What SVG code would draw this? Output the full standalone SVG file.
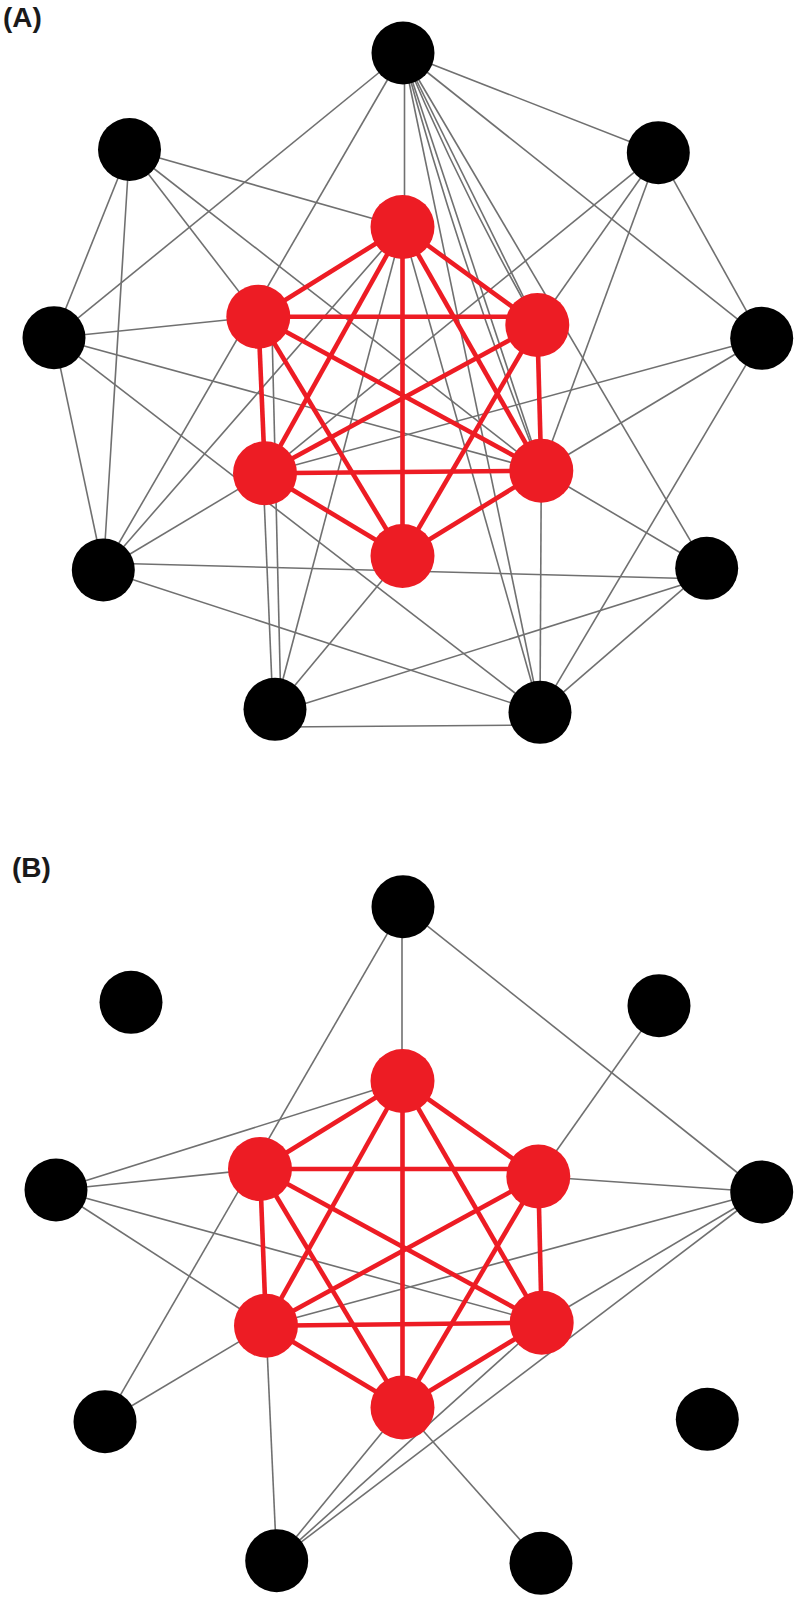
<svg xmlns="http://www.w3.org/2000/svg" width="799" height="1599" viewBox="0 0 799 1599">
<style>
.g{stroke:#707070;stroke-width:1.6;fill:none}
.r{stroke:#ED1C24;stroke-width:4.6;fill:none}
.bn{fill:#000}
.rn{fill:#ED1C24}
.lbl{font-family:"Liberation Sans",Arial,sans-serif;font-weight:bold;font-size:28px;fill:#1a1a1a}
</style>
<rect width="799" height="1599" fill="#fff"/>
<text class="lbl" x="3" y="27">(A)</text>
<text class="lbl" x="12" y="877">(B)</text>
<g id="edges-A-gray">
<line class="g" x1="403" y1="53" x2="658.3" y2="152.7"/>
<line class="g" x1="403" y1="53" x2="761.7" y2="338.3"/>
<line class="g" x1="404.5" y1="53" x2="404.5" y2="227"/>
<line class="g" x1="403" y1="53" x2="54" y2="337.7"/>
<line class="g" x1="403" y1="53" x2="103.3" y2="570"/>
<line class="g" x1="403" y1="53" x2="706.7" y2="568.3"/>
<line class="g" x1="403" y1="53" x2="540" y2="712.3"/>
<line class="g" x1="403" y1="53" x2="541.3" y2="470.7"/>
<line class="g" x1="403" y1="53" x2="537.3" y2="325"/>
<path class="g" d="M403,53 Q461.9,193.1 537.3,325"/>
<path class="g" d="M403,53 Q460.5,265.8 541.3,470.7"/>
<line class="g" x1="129.5" y1="149.5" x2="402.5" y2="227"/>
<line class="g" x1="129.5" y1="149.5" x2="258.3" y2="316.7"/>
<line class="g" x1="129.5" y1="149.5" x2="54" y2="337.7"/>
<line class="g" x1="129.5" y1="149.5" x2="103.3" y2="570"/>
<line class="g" x1="129.5" y1="149.5" x2="541.3" y2="470.7"/>
<line class="g" x1="658.3" y1="152.7" x2="761.7" y2="338.3"/>
<line class="g" x1="658.3" y1="152.7" x2="265" y2="473.3"/>
<line class="g" x1="658.3" y1="152.7" x2="537.3" y2="325"/>
<line class="g" x1="658.3" y1="152.7" x2="541.3" y2="470.7"/>
<line class="g" x1="54" y1="337.7" x2="258.3" y2="316.7"/>
<line class="g" x1="54" y1="337.7" x2="103.3" y2="570"/>
<line class="g" x1="54" y1="337.7" x2="541.3" y2="470.7"/>
<line class="g" x1="54" y1="337.7" x2="540" y2="712.3"/>
<line class="g" x1="761.7" y1="338.3" x2="265" y2="473.3"/>
<line class="g" x1="761.7" y1="338.3" x2="541.3" y2="470.7"/>
<line class="g" x1="761.7" y1="338.3" x2="540" y2="712.3"/>
<line class="g" x1="103.3" y1="570" x2="402.5" y2="227"/>
<line class="g" x1="103.3" y1="570" x2="265" y2="473.3"/>
<line class="g" x1="104" y1="563" x2="706" y2="579"/>
<line class="g" x1="103.3" y1="570" x2="540" y2="712.3"/>
<line class="g" x1="706.7" y1="568.3" x2="541.3" y2="470.7"/>
<line class="g" x1="706.7" y1="577" x2="275" y2="713"/>
<line class="g" x1="706.7" y1="568.3" x2="540" y2="712.3"/>
<line class="g" x1="273" y1="709" x2="263" y2="473"/>
<line class="g" x1="281" y1="709" x2="272" y2="330"/>
<line class="g" x1="275" y1="709.3" x2="402.5" y2="227"/>
<line class="g" x1="275" y1="709.3" x2="402.5" y2="556"/>
<line class="g" x1="280" y1="727" x2="535" y2="725"/>
<line class="g" x1="540" y1="712.3" x2="402.5" y2="227"/>
<line class="g" x1="540" y1="712.3" x2="541.3" y2="470.7"/>
</g>
<g id="edges-A-red">
<line class="r" x1="402.5" y1="227" x2="258.3" y2="316.7"/>
<line class="r" x1="402.5" y1="227" x2="537.3" y2="325"/>
<line class="r" x1="402.5" y1="227" x2="265" y2="473.3"/>
<line class="r" x1="402.5" y1="227" x2="541.3" y2="470.7"/>
<line class="r" x1="402.5" y1="227" x2="402.5" y2="556"/>
<line class="r" x1="258.3" y1="316.7" x2="537.3" y2="316.7"/>
<line class="r" x1="258.3" y1="316.7" x2="265" y2="473.3"/>
<line class="r" x1="258.3" y1="316.7" x2="541.3" y2="470.7"/>
<line class="r" x1="258.3" y1="316.7" x2="402.5" y2="556"/>
<line class="r" x1="537.3" y1="325" x2="265" y2="473.3"/>
<line class="r" x1="537.3" y1="325" x2="541.3" y2="470.7"/>
<line class="r" x1="537.3" y1="325" x2="402.5" y2="556"/>
<line class="r" x1="265" y1="473.3" x2="541.3" y2="470.7"/>
<line class="r" x1="265" y1="473.3" x2="402.5" y2="556"/>
<line class="r" x1="541.3" y1="470.7" x2="402.5" y2="556"/>
</g>
<g id="edges-B-gray">
<line class="g" x1="402" y1="906.7" x2="402" y2="1081"/>
<line class="g" x1="403" y1="906.7" x2="761.7" y2="1192"/>
<line class="g" x1="403" y1="906.7" x2="105" y2="1421.7"/>
<line class="g" x1="659" y1="1005.7" x2="538.3" y2="1176.5"/>
<line class="g" x1="56" y1="1190" x2="402.5" y2="1081"/>
<line class="g" x1="56" y1="1190" x2="260" y2="1169"/>
<line class="g" x1="56" y1="1190" x2="266" y2="1325.7"/>
<line class="g" x1="56" y1="1190" x2="541.7" y2="1322.7"/>
<line class="g" x1="761.7" y1="1192" x2="538.3" y2="1176.5"/>
<line class="g" x1="761.7" y1="1192" x2="266" y2="1325.7"/>
<line class="g" x1="761.7" y1="1192" x2="541.7" y2="1322.7"/>
<line class="g" x1="761.7" y1="1192" x2="276.7" y2="1560.7"/>
<line class="g" x1="105" y1="1421.7" x2="266" y2="1325.7"/>
<line class="g" x1="276.7" y1="1560.7" x2="266" y2="1325.7"/>
<line class="g" x1="276.7" y1="1560.7" x2="402.5" y2="1407.5"/>
<line class="g" x1="276.7" y1="1560.7" x2="541.7" y2="1322.7"/>
<line class="g" x1="541" y1="1563.3" x2="402.5" y2="1407.5"/>
</g>
<g id="edges-B-red">
<line class="r" x1="402.5" y1="1081" x2="260" y2="1169"/>
<line class="r" x1="402.5" y1="1081" x2="538.3" y2="1176.5"/>
<line class="r" x1="402.5" y1="1081" x2="266" y2="1325.7"/>
<line class="r" x1="402.5" y1="1081" x2="541.7" y2="1322.7"/>
<line class="r" x1="402.5" y1="1081" x2="402.5" y2="1407.5"/>
<line class="r" x1="260" y1="1169" x2="538.3" y2="1169"/>
<line class="r" x1="260" y1="1169" x2="266" y2="1325.7"/>
<line class="r" x1="260" y1="1169" x2="541.7" y2="1322.7"/>
<line class="r" x1="260" y1="1169" x2="402.5" y2="1407.5"/>
<line class="r" x1="538.3" y1="1176.5" x2="266" y2="1325.7"/>
<line class="r" x1="538.3" y1="1176.5" x2="541.7" y2="1322.7"/>
<line class="r" x1="538.3" y1="1176.5" x2="402.5" y2="1407.5"/>
<line class="r" x1="266" y1="1325.7" x2="541.7" y2="1322.7"/>
<line class="r" x1="266" y1="1325.7" x2="402.5" y2="1407.5"/>
<line class="r" x1="541.7" y1="1322.7" x2="402.5" y2="1407.5"/>
</g>
<g id="A-T"><circle class="bn" cx="403" cy="53" r="31.5"/></g>
<g id="A-TL"><circle class="bn" cx="129.5" cy="149.5" r="31.5"/></g>
<g id="A-TR"><circle class="bn" cx="658.3" cy="152.7" r="31.5"/></g>
<g id="A-L"><circle class="bn" cx="54" cy="337.7" r="31.5"/></g>
<g id="A-R"><circle class="bn" cx="761.7" cy="338.3" r="31.5"/></g>
<g id="A-LL"><circle class="bn" cx="103.3" cy="570" r="31.5"/></g>
<g id="A-LR"><circle class="bn" cx="706.7" cy="568.3" r="31.5"/></g>
<g id="A-BL"><circle class="bn" cx="275" cy="709.3" r="31.5"/></g>
<g id="A-BR"><circle class="bn" cx="540" cy="712.3" r="31.5"/></g>
<g id="A-r1"><circle class="rn" cx="402.5" cy="227" r="32"/></g>
<g id="A-r2"><circle class="rn" cx="258.3" cy="316.7" r="32"/></g>
<g id="A-r3"><circle class="rn" cx="537.3" cy="325" r="32"/></g>
<g id="A-r4"><circle class="rn" cx="265" cy="473.3" r="32"/></g>
<g id="A-r5"><circle class="rn" cx="541.3" cy="470.7" r="32"/></g>
<g id="A-r6"><circle class="rn" cx="402.5" cy="556" r="32"/></g>
<g id="B-T"><circle class="bn" cx="403" cy="906.7" r="31.5"/></g>
<g id="B-TL"><circle class="bn" cx="131" cy="1002.3" r="31.5"/></g>
<g id="B-TR"><circle class="bn" cx="659" cy="1005.7" r="31.5"/></g>
<g id="B-L"><circle class="bn" cx="56" cy="1190" r="31.5"/></g>
<g id="B-R"><circle class="bn" cx="761.7" cy="1192" r="31.5"/></g>
<g id="B-LL"><circle class="bn" cx="105" cy="1421.7" r="31.5"/></g>
<g id="B-LR"><circle class="bn" cx="707.3" cy="1419.3" r="31.5"/></g>
<g id="B-BL"><circle class="bn" cx="276.7" cy="1560.7" r="31.5"/></g>
<g id="B-BR"><circle class="bn" cx="541" cy="1563.3" r="31.5"/></g>
<g id="B-r1"><circle class="rn" cx="402.5" cy="1081" r="32"/></g>
<g id="B-r2"><circle class="rn" cx="260" cy="1169" r="32"/></g>
<g id="B-r3"><circle class="rn" cx="538.3" cy="1176.5" r="32"/></g>
<g id="B-r4"><circle class="rn" cx="266" cy="1325.7" r="32"/></g>
<g id="B-r5"><circle class="rn" cx="541.7" cy="1322.7" r="32"/></g>
<g id="B-r6"><circle class="rn" cx="402.5" cy="1407.5" r="32"/></g>
</svg>
